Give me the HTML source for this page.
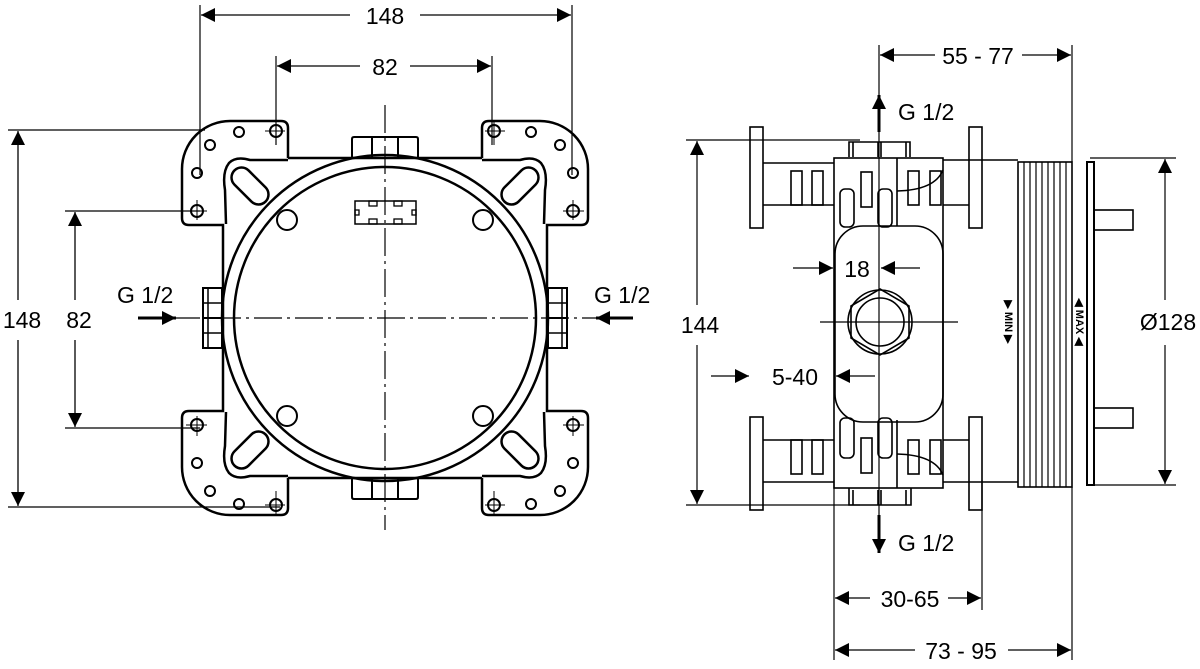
<!DOCTYPE html>
<html><head><meta charset="utf-8"><style>
html,body{margin:0;padding:0;background:#fff}
svg{display:block}
text{font-family:"Liberation Sans",Arial,sans-serif;fill:#000}
</style></head><body>
<svg width="1200" height="669" viewBox="0 0 1200 669" xmlns="http://www.w3.org/2000/svg">
<defs>
<marker id="a" viewBox="0 0 10 10" refX="10" refY="5" markerWidth="22" markerHeight="14" markerUnits="userSpaceOnUse" orient="auto-start-reverse"><path d="M0,0L10,5L0,10z" fill="#000"/></marker>
<g id="q">
 <path d="M288,158 L288,128 Q288,121 281,121 L230,121 A48,48 0 0 0 182,169 L182,218 Q182,225 189,225 L223,225 L223,318" fill="none" stroke="#000" stroke-width="2.5"/>
 <path d="M288,158 L385,158" stroke="#000" stroke-width="2.5"/>
 <path d="M288,160 L250,160 Q236,156 229,163 Q222,172 225,190 L226,224" fill="none" stroke="#000" stroke-width="2.5"/>
 <rect x="228" y="176" width="44" height="20" rx="10" transform="rotate(45 250 186)" fill="none" stroke="#000" stroke-width="2.5"/>
 <g fill="none" stroke="#000" stroke-width="2">
  <circle cx="276" cy="131" r="6"/><circle cx="239" cy="132" r="5"/><circle cx="210" cy="145" r="5"/><circle cx="197" cy="173" r="5"/><circle cx="197" cy="211" r="6"/>
  <circle cx="287" cy="220" r="10"/>
 </g>
 <path d="M276,120V145 M265,131H285 M197,200V220 M186,211H207" stroke="#000" stroke-width="1"/>
 <rect x="203" y="288" width="19" height="30" fill="none" stroke="#000" stroke-width="2"/>
 <path d="M203,303H222 M208,288V318" stroke="#000" stroke-width="1.5"/>
 <path d="M352,157V139Q352,137 354,137H385 M372,137V157" fill="none" stroke="#000" stroke-width="2"/>
</g>
</defs>

<g>
 <use href="#q"/>
 <use href="#q" transform="translate(770,0) scale(-1,1)"/>
 <use href="#q" transform="translate(0,636) scale(1,-1)"/>
 <use href="#q" transform="translate(770,636) scale(-1,-1)"/>
 <circle cx="385" cy="318" r="163" fill="none" stroke="#000" stroke-width="2.5"/>
 <circle cx="385" cy="318" r="151" fill="none" stroke="#000" stroke-width="2.5"/>
 <rect x="355" y="201" width="61" height="23" fill="none" stroke="#000" stroke-width="1.5"/>
 <g fill="none" stroke="#000" stroke-width="1.3">
  <rect x="369" y="201" width="8" height="5"/><rect x="394" y="201" width="8" height="5"/>
  <rect x="369" y="219" width="8" height="5"/><rect x="394" y="219" width="8" height="5"/>
  <rect x="355" y="210" width="4" height="5"/><rect x="412" y="210" width="4" height="5"/>
 </g>
 <path d="M385,105V530 M172,318H600" stroke="#000" stroke-width="1.2" stroke-dasharray="28,5,3,5"/>
 <path d="M200,5V175 M572,5V175 M276,56V145 M492,56V145 M8,130H205 M8,507H280 M65,211H200 M65,428H200" stroke="#000" stroke-width="1.2"/>
 <line x1="201" y1="15" x2="350" y2="15" stroke="#000" stroke-width="1.3" marker-start="url(#a)"/>
 <line x1="420" y1="15" x2="571" y2="15" stroke="#000" stroke-width="1.3" marker-end="url(#a)"/>
 <line x1="277" y1="66" x2="360" y2="66" stroke="#000" stroke-width="1.3" marker-start="url(#a)"/>
 <line x1="410" y1="66" x2="491" y2="66" stroke="#000" stroke-width="1.3" marker-end="url(#a)"/>
 <line x1="18" y1="131" x2="18" y2="300" stroke="#000" stroke-width="1.3" marker-start="url(#a)"/>
 <line x1="18" y1="340" x2="18" y2="506" stroke="#000" stroke-width="1.3" marker-end="url(#a)"/>
 <line x1="75" y1="212" x2="75" y2="300" stroke="#000" stroke-width="1.3" marker-start="url(#a)"/>
 <line x1="75" y1="340" x2="75" y2="427" stroke="#000" stroke-width="1.3" marker-end="url(#a)"/>
 <text x="385" y="24" font-size="23" text-anchor="middle">148</text>
 <text x="385" y="75" font-size="23" text-anchor="middle">82</text>
 <text x="22" y="328" font-size="23" text-anchor="middle">148</text>
 <text x="79" y="328" font-size="23" text-anchor="middle">82</text>
 <text x="117" y="303" font-size="23">G 1/2</text>
 <text x="594" y="303" font-size="23">G 1/2</text>
 <line x1="138" y1="318" x2="176" y2="318" stroke="#000" stroke-width="3" marker-end="url(#a)"/>
 <line x1="633" y1="318" x2="596" y2="318" stroke="#000" stroke-width="3" marker-end="url(#a)"/>
</g>

<g fill="none" stroke="#000" stroke-width="1.6">
 <rect x="750" y="127" width="13" height="101"/><rect x="750" y="417" width="13" height="93"/>
 <rect x="969" y="127" width="13" height="101"/><rect x="969" y="417" width="13" height="93"/>
 <path d="M763,163H834 M763,205H834 M763,440H834 M763,482H834 M943,160H1018 M943,205H969 M943,440H969 M943,482H1018"/>
 <rect x="791" y="171" width="11" height="34"/><rect x="812" y="171" width="11" height="34"/>
 <rect x="791" y="440" width="11" height="34"/><rect x="812" y="440" width="11" height="34"/>
 <rect x="908" y="171" width="11" height="34"/><rect x="930" y="171" width="11" height="34"/>
 <rect x="908" y="440" width="11" height="34"/><rect x="930" y="440" width="11" height="34"/>
 <path d="M897,191Q935,190 943,170 M897,454Q935,455 943,475"/>
 <rect x="834" y="158" width="109" height="330"/>
 <rect x="835" y="226" width="108" height="196" rx="28"/>
 <rect x="840" y="189" width="14" height="38" rx="5"/><rect x="878" y="189" width="14" height="38" rx="5"/>
 <rect x="840" y="418" width="14" height="40" rx="5"/><rect x="878" y="418" width="14" height="40" rx="5"/>
 <rect x="861" y="172" width="11" height="35"/><rect x="861" y="438" width="11" height="35"/>
 <path d="M897,158V226 M897,420V488"/>
 <path d="M849,157V142H910V157 M853,142V157 M878,142V157 M881,142V157 M906,142V157"/>
 <path d="M849,488V505H911V488 M853,490V505 M878,490V505 M881,490V505 M906,490V505"/>
 <polygon points="880,289 909,306 909,338 880,355 851,338 851,306"/>
 <circle cx="880" cy="322" r="32"/>
 <circle cx="880" cy="322" r="24"/>
 <rect x="1018" y="162" width="54" height="325"/>
 <path d="M1024,162V487 M1030,162V487 M1036,162V487 M1042,162V487 M1048,162V487 M1054,162V487 M1060,162V487 M1066,162V487" stroke-width="1.2"/>
 <rect x="1087" y="162" width="7" height="323" stroke-width="2"/>
 <rect x="1094" y="210" width="39" height="20"/><rect x="1094" y="408" width="39" height="20"/>
</g>
<g stroke="#000" stroke-width="1.2">
 <path d="M879,45V540 M820,322H958 M834,480V660 M982,480V610 M1072,45V162 M1072,487V660 M686,140H860 M686,505H860 M1090,158H1176 M1090,485H1176"/>
 <line x1="880" y1="55" x2="935" y2="55" marker-start="url(#a)"/>
 <line x1="1022" y1="55" x2="1071" y2="55" marker-end="url(#a)"/>
 <line x1="697" y1="141" x2="697" y2="305" marker-start="url(#a)"/>
 <line x1="697" y1="345" x2="697" y2="504" marker-end="url(#a)"/>
 <line x1="1165" y1="159" x2="1165" y2="300" marker-start="url(#a)"/>
 <line x1="1165" y1="345" x2="1165" y2="484" marker-end="url(#a)"/>
 <line x1="835" y1="598" x2="870" y2="598" marker-start="url(#a)"/>
 <line x1="948" y1="598" x2="981" y2="598" marker-end="url(#a)"/>
 <line x1="835" y1="650" x2="915" y2="650" marker-start="url(#a)"/>
 <line x1="1008" y1="650" x2="1071" y2="650" marker-end="url(#a)"/>
 <line x1="793" y1="268" x2="833" y2="268" marker-end="url(#a)"/>
 <line x1="920" y1="268" x2="881" y2="268" marker-end="url(#a)"/>
 <line x1="711" y1="376" x2="749" y2="376" marker-end="url(#a)"/>
 <line x1="875" y1="376" x2="836" y2="376" marker-end="url(#a)"/>
</g>
<line x1="879" y1="132" x2="879" y2="95" stroke="#000" stroke-width="3" marker-end="url(#a)"/>
<line x1="879" y1="515" x2="879" y2="553" stroke="#000" stroke-width="3" marker-end="url(#a)"/>
<text x="898" y="120" font-size="23">G 1/2</text>
<text x="898" y="551" font-size="23">G 1/2</text>
<text x="978" y="64" font-size="23" text-anchor="middle">55 - 77</text>
<text x="700" y="333" font-size="23" text-anchor="middle">144</text>
<text x="1168" y="330" font-size="23" text-anchor="middle">Ø128</text>
<text x="910" y="607" font-size="23" text-anchor="middle">30-65</text>
<text x="961" y="659" font-size="23" text-anchor="middle">73 - 95</text>
<text x="857" y="277" font-size="23" text-anchor="middle">18</text>
<text x="795" y="385" font-size="23" text-anchor="middle">5-40</text>
<text transform="translate(1005,322) rotate(90)" font-size="11" font-weight="bold" text-anchor="middle">▶ MIN ▶</text>
<text transform="translate(1076,322) rotate(90)" font-size="11" font-weight="bold" text-anchor="middle">◀ MAX ◀</text>
</svg>
</body></html>
